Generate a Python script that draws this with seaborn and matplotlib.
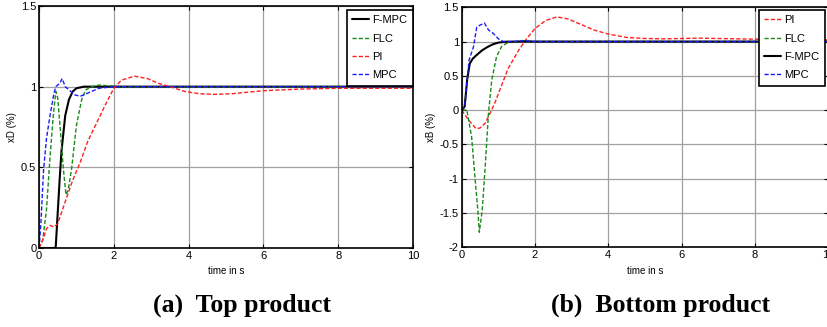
import matplotlib
matplotlib.use("Agg")
import matplotlib.pyplot as plt
import numpy as np
import pandas as pd
import seaborn as sns

# --- (a) top product, xD ---
t_fmpc_a = [0, 0.44, 0.45, 0.5, 0.55, 0.6, 0.7, 0.8, 0.9, 1.0, 1.2, 10]
y_fmpc_a = [0, 0, 0.02, 0.22, 0.42, 0.6, 0.82, 0.92, 0.97, 0.99, 1.0, 1.0]
t_flc_a = [0, 0.1, 0.2, 0.29, 0.38, 0.45, 0.5, 0.56, 0.65, 0.72, 0.78, 0.87,
           1.0, 1.14, 1.25, 1.4, 1.6, 1.9, 2.2, 10]
y_flc_a = [0, 0.05, 0.24, 0.55, 0.82, 0.97, 0.93, 0.76, 0.49, 0.33, 0.36, 0.49,
           0.76, 0.92, 0.98, 1.0, 1.01, 1.005, 1.0, 1.0]
t_pi_a = [0, 0.1, 0.2, 0.3, 0.4, 0.5, 0.6, 0.75, 0.9, 1.1, 1.3, 1.55, 1.8, 2.0,
          2.2, 2.55, 2.9, 3.2, 3.5, 3.9, 4.3, 4.7, 5.2, 6, 7, 8, 10]
y_pi_a = [0, 0.05, 0.12, 0.14, 0.13, 0.15, 0.22, 0.32, 0.42, 0.53, 0.66, 0.78, 0.9, 0.99,
          1.04, 1.065, 1.05, 1.02, 1.0, 0.97, 0.956, 0.952, 0.957, 0.975, 0.985, 0.99, 0.99]
t_mpc_a = [0, 0.05, 0.12, 0.2, 0.3, 0.4, 0.45, 0.55, 0.62, 0.7, 0.8, 0.95, 1.1,
           1.3, 1.6, 2.0, 10]
y_mpc_a = [0, 0.15, 0.48, 0.68, 0.83, 0.96, 1.0, 1.02, 1.05, 1.0, 0.98, 0.95, 0.94,
           0.96, 0.99, 1.0, 1.0]

# --- (b) bottom product, xB ---
t_pi_b = [0, 0.1, 0.23, 0.39, 0.5, 0.64, 0.77, 0.9, 1.0, 1.27, 1.55, 1.77, 2.0,
          2.3, 2.6, 2.9, 3.3, 3.6, 4.0, 4.5, 5.0, 5.5, 6.0, 6.5, 7.0, 8.0, 9.0, 10]
y_pi_b = [0, -0.08, -0.17, -0.27, -0.26, -0.19, -0.05, 0.1, 0.24, 0.61, 0.87, 1.04, 1.19,
          1.31, 1.36, 1.33, 1.24, 1.17, 1.11, 1.06, 1.045, 1.04, 1.045, 1.05, 1.045, 1.035, 1.03, 1.025]
t_flc_b = [0, 0.14, 0.27, 0.36, 0.44, 0.48, 0.56, 0.64, 0.73, 0.82, 0.95, 1.09,
           1.27, 1.5, 1.7, 2.0, 10]
y_flc_b = [0, 0, -0.39, -0.97, -1.46, -1.78, -1.46, -0.83, -0.05, 0.44, 0.78, 0.93,
           0.99, 1.0, 1.01, 1.0, 1.0]
t_fmpc_b = [0, 0.08, 0.15, 0.22, 0.3, 0.4, 0.55, 0.7, 0.85, 1.0, 1.2, 1.5, 10]
y_fmpc_b = [0, 0.05, 0.45, 0.68, 0.75, 0.8, 0.87, 0.92, 0.96, 0.985, 0.998, 1.0, 1.0]
t_mpc_b = [0, 0.08, 0.14, 0.2, 0.32, 0.41, 0.5, 0.62, 0.73, 0.86, 1.0, 1.14,
           1.4, 1.7, 2.0, 10]
y_mpc_b = [0, 0.05, 0.39, 0.73, 0.92, 1.21, 1.24, 1.27, 1.17, 1.12, 1.04, 1.0,
           1.0, 1.015, 1.0, 1.0]

styles = {
    "F-MPC": dict(color="black", linestyle="-", linewidth=1.5),
    "FLC": dict(color="#1a8a1a", linestyle=(0, (3, 1.5)), linewidth=1.0),
    "PI": dict(color="#ff2020", linestyle=(0, (3, 1.5)), linewidth=1.0),
    "MPC": dict(color="#1a1aff", linestyle=(0, (3, 1.5)), linewidth=1.0),
}

panel_a = [("F-MPC", t_fmpc_a, y_fmpc_a), ("FLC", t_flc_a, y_flc_a),
           ("PI", t_pi_a, y_pi_a), ("MPC", t_mpc_a, y_mpc_a)]
panel_b = [("PI", t_pi_b, y_pi_b), ("FLC", t_flc_b, y_flc_b),
           ("F-MPC", t_fmpc_b, y_fmpc_b), ("MPC", t_mpc_b, y_mpc_b)]

sns.set_style("white")
plt.rcParams["font.family"] = ["Liberation Sans", "DejaVu Sans"]
plt.rcParams.update({"text.color": "black", "axes.labelcolor": "black",
                     "xtick.color": "black", "ytick.color": "black"})

fig = plt.figure(figsize=(8.27, 3.27), dpi=100)
ax_a = fig.add_axes([0.0472, 0.2416, 0.4522, 0.7401])
ax_b = fig.add_axes([0.5583, 0.2437, 0.4430, 0.7340])


def draw_panel(ax, series, ylabel, yticks, ylim, anchor):
    for name, t, y in series:
        df = pd.DataFrame({"t": t, "y": y})
        sns.lineplot(data=df, x="t", y="y", ax=ax, label=name, sort=False,
                     estimator=None, **styles[name])
    ax.set_xlim(0, 10)
    ax.set_ylim(*ylim)
    ax.set_xticks(np.arange(0, 11, 2))
    ax.set_yticks(yticks)
    ax.set_yticklabels([f"{v:g}" for v in yticks])
    ax.grid(True, color="#a0a0a0", linewidth=0.9)
    ax.set_axisbelow(True)
    ax.tick_params(direction="in", length=3, labelsize=8, pad=2, colors="black",
                   top=True, right=True, bottom=True, left=True)
    for sp in ax.spines.values():
        sp.set_color("black")
        sp.set_linewidth(1.2)
    ax.set_xlabel("time in s", fontsize=7, labelpad=4)
    ax.set_ylabel(ylabel, fontsize=7, labelpad=3)
    leg = ax.legend(loc="upper right", bbox_to_anchor=anchor, fontsize=8,
                    frameon=True, fancybox=False, handlelength=1.5,
                    borderpad=0.5, labelspacing=0.75, borderaxespad=0,
                    handletextpad=0.3)
    leg.get_frame().set_edgecolor("black")
    leg.get_frame().set_linewidth(1.2)
    leg.get_frame().set_alpha(1)


draw_panel(ax_a, panel_a, "xD (%)", [0, 0.5, 1, 1.5], (0, 1.5), (1.0, 0.985))
draw_panel(ax_b, panel_b, "xB (%)", [-2, -1.5, -1, -0.5, 0, 0.5, 1, 1.5], (-2, 1.5),
           (0.992, 0.99))

cap = dict(fontsize=18.5, fontweight="bold", family=["Liberation Serif", "DejaVu Serif"],
           ha="center", va="center", color="black")
fig.text(242 / 827, 1 - 305 / 327, "(a)  Top product", **cap)
fig.text(661 / 827, 1 - 305 / 327, "(b)  Bottom product", **cap)

fig.savefig("out.png", dpi=100)
